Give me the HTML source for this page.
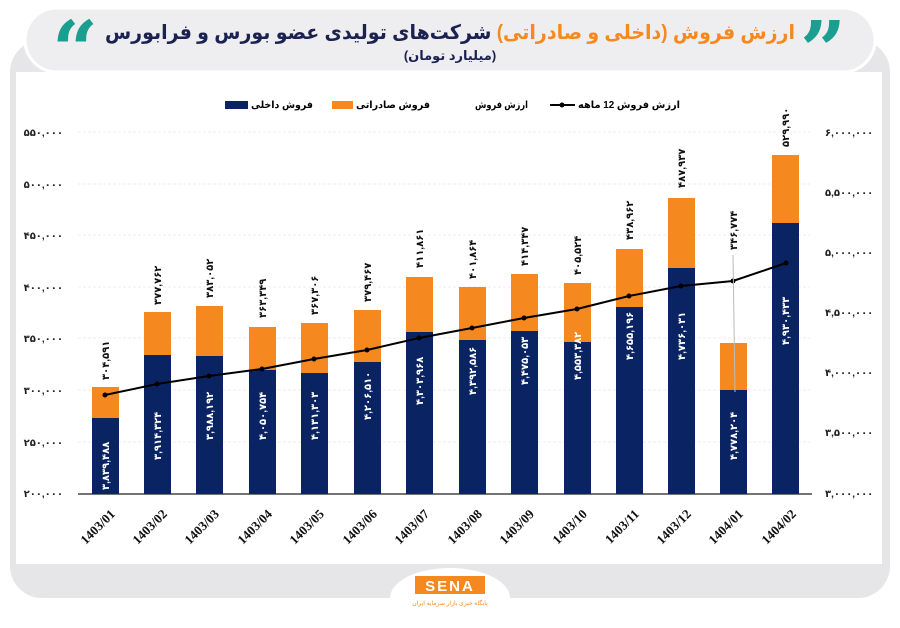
<!DOCTYPE html>
<html><head><meta charset="utf-8"><style>
body{margin:0;background:#fff;width:900px;height:623px;overflow:hidden;font-family:"Liberation Sans","Noto Sans CJK SC",sans-serif}
</style></head><body>
<svg width="900" height="623" xmlns="http://www.w3.org/2000/svg" font-family="Liberation Sans, DejaVu Sans, sans-serif">
<rect x="10" y="40" width="880" height="558" rx="32" fill="#e6e6e8"/>
<rect x="16" y="72" width="866" height="492" fill="#fff"/>
<rect x="25" y="8" width="850" height="64" rx="32" fill="#eeeef0" stroke="#fff" stroke-width="3"/>
<text x="52" y="78" font-size="80" font-weight="bold" fill="#1a9e8f" font-family="DejaVu Serif,serif">“</text>
<text x="800" y="78" font-size="80" font-weight="bold" fill="#1a9e8f" font-family="DejaVu Serif,serif">”</text>
<text x="450" y="39" text-anchor="middle" font-size="20" font-weight="bold" fill="#1b2150" textLength="690" lengthAdjust="spacingAndGlyphs"><tspan fill="#f5891f">ارزش فروش (داخلی و صادراتی)</tspan> شرکت‌های تولیدی عضو بورس و فرابورس</text>
<text x="450" y="60" text-anchor="middle" font-size="13" font-weight="bold" fill="#1b2150">(میلیارد تومان)</text>
<!-- legend -->
<g font-size="10" font-weight="bold" direction="ltr">
<rect x="225" y="101" width="23" height="8" fill="#0a2463"/><text x="251" y="108" textLength="62" lengthAdjust="spacingAndGlyphs">فروش داخلی</text>
<rect x="332" y="101" width="21" height="8" fill="#f5891f"/><text x="356" y="108" textLength="74" lengthAdjust="spacingAndGlyphs">فروش صادراتی</text>
<text x="475" y="108" textLength="53" lengthAdjust="spacingAndGlyphs">ارزش فروش</text>
<line x1="550" y1="105" x2="575" y2="105" stroke="#000" stroke-width="2"/><circle cx="562" cy="105" r="2.5"/>
<text x="578" y="108" textLength="102" lengthAdjust="spacingAndGlyphs">ارزش فروش 12 ماهه</text>
</g>
<!-- grid -->
<g stroke="#eee" stroke-dasharray="3,2">
<line x1="78" y1="132" x2="810" y2="132"/><line x1="78" y1="184" x2="810" y2="184"/><line x1="78" y1="235" x2="810" y2="235"/><line x1="78" y1="287" x2="810" y2="287"/><line x1="78" y1="338" x2="810" y2="338"/><line x1="78" y1="390" x2="810" y2="390"/><line x1="78" y1="442" x2="810" y2="442"/></g>
<g font-size="10" font-weight="bold" fill="#222">
<text x="63" y="136" text-anchor="end">۵۵۰,۰۰۰</text><text x="63" y="188" text-anchor="end">۵۰۰,۰۰۰</text><text x="63" y="239" text-anchor="end">۴۵۰,۰۰۰</text><text x="63" y="291" text-anchor="end">۴۰۰,۰۰۰</text><text x="63" y="342" text-anchor="end">۳۵۰,۰۰۰</text><text x="63" y="394" text-anchor="end">۳۰۰,۰۰۰</text><text x="63" y="446" text-anchor="end">۲۵۰,۰۰۰</text><text x="63" y="497" text-anchor="end">۲۰۰,۰۰۰</text>
<text x="825" y="136">۶,۰۰۰,۰۰۰</text><text x="825" y="196">۵,۵۰۰,۰۰۰</text><text x="825" y="256">۵,۰۰۰,۰۰۰</text><text x="825" y="316">۴,۵۰۰,۰۰۰</text><text x="825" y="376">۴,۰۰۰,۰۰۰</text><text x="825" y="436">۳,۵۰۰,۰۰۰</text><text x="825" y="497">۳,۰۰۰,۰۰۰</text>
</g>
<line x1="78" y1="494" x2="812" y2="494" stroke="#222" stroke-width="1.2"/>
<g font-family="Liberation Serif,serif" font-size="13" font-weight="bold" fill="#111">
<text transform="translate(113,512) rotate(-45)" text-anchor="end" dy="4">1403/01</text>
<text transform="translate(165,512) rotate(-45)" text-anchor="end" dy="4">1403/02</text>
<text transform="translate(217,512) rotate(-45)" text-anchor="end" dy="4">1403/03</text>
<text transform="translate(270,512) rotate(-45)" text-anchor="end" dy="4">1403/04</text>
<text transform="translate(322,512) rotate(-45)" text-anchor="end" dy="4">1403/05</text>
<text transform="translate(375,512) rotate(-45)" text-anchor="end" dy="4">1403/06</text>
<text transform="translate(427,512) rotate(-45)" text-anchor="end" dy="4">1403/07</text>
<text transform="translate(480,512) rotate(-45)" text-anchor="end" dy="4">1403/08</text>
<text transform="translate(532,512) rotate(-45)" text-anchor="end" dy="4">1403/09</text>
<text transform="translate(585,512) rotate(-45)" text-anchor="end" dy="4">1403/10</text>
<text transform="translate(637,512) rotate(-45)" text-anchor="end" dy="4">1403/11</text>
<text transform="translate(689,512) rotate(-45)" text-anchor="end" dy="4">1403/12</text>
<text transform="translate(741,512) rotate(-45)" text-anchor="end" dy="4">1404/01</text>
<text transform="translate(794,512) rotate(-45)" text-anchor="end" dy="4">1404/02</text>
</g>
<g>
<rect x="92" y="387" width="27" height="31" fill="#f5891f"/><rect x="92" y="418" width="27" height="76" fill="#0a2463"/>
<rect x="144" y="312" width="27" height="43" fill="#f5891f"/><rect x="144" y="355" width="27" height="139" fill="#0a2463"/>
<rect x="196" y="306" width="27" height="50" fill="#f5891f"/><rect x="196" y="356" width="27" height="138" fill="#0a2463"/>
<rect x="249" y="327" width="27" height="43" fill="#f5891f"/><rect x="249" y="370" width="27" height="124" fill="#0a2463"/>
<rect x="301" y="323" width="27" height="50" fill="#f5891f"/><rect x="301" y="373" width="27" height="121" fill="#0a2463"/>
<rect x="354" y="310" width="27" height="52" fill="#f5891f"/><rect x="354" y="362" width="27" height="132" fill="#0a2463"/>
<rect x="406" y="277" width="27" height="55" fill="#f5891f"/><rect x="406" y="332" width="27" height="162" fill="#0a2463"/>
<rect x="459" y="287" width="27" height="53" fill="#f5891f"/><rect x="459" y="340" width="27" height="154" fill="#0a2463"/>
<rect x="511" y="274" width="27" height="57" fill="#f5891f"/><rect x="511" y="331" width="27" height="163" fill="#0a2463"/>
<rect x="564" y="283" width="27" height="59" fill="#f5891f"/><rect x="564" y="342" width="27" height="152" fill="#0a2463"/>
<rect x="616" y="249" width="27" height="58" fill="#f5891f"/><rect x="616" y="307" width="27" height="187" fill="#0a2463"/>
<rect x="668" y="198" width="27" height="70" fill="#f5891f"/><rect x="668" y="268" width="27" height="226" fill="#0a2463"/>
<rect x="720" y="343" width="27" height="47" fill="#f5891f"/><rect x="720" y="390" width="27" height="104" fill="#0a2463"/>
<rect x="772" y="155" width="27" height="68" fill="#f5891f"/><rect x="772" y="223" width="27" height="271" fill="#0a2463"/>
</g>
<polyline fill="none" stroke="#000" stroke-width="2" points="105,395 157,384 209,376 262,369 314,359 367,350 419,338 472,328 524,318 577,309 629,296 681,286 733,281 786,263"/>
<g fill="#000"><circle cx="105" cy="395" r="2.5"/><circle cx="157" cy="384" r="2.5"/><circle cx="209" cy="376" r="2.5"/><circle cx="262" cy="369" r="2.5"/><circle cx="314" cy="359" r="2.5"/><circle cx="367" cy="350" r="2.5"/><circle cx="419" cy="338" r="2.5"/><circle cx="472" cy="328" r="2.5"/><circle cx="524" cy="318" r="2.5"/><circle cx="577" cy="309" r="2.5"/><circle cx="629" cy="296" r="2.5"/><circle cx="681" cy="286" r="2.5"/><circle cx="733" cy="281" r="2.5"/><circle cx="786" cy="263" r="2.5"/></g>
<line x1="733" y1="255" x2="735" y2="392" stroke="#bbb"/>
<g font-size="10" font-weight="bold" fill="#111">
<text transform="translate(109,380) rotate(-90)">۳۰۴,۵۹۱</text>
<text transform="translate(161,305) rotate(-90)">۳۷۷,۷۶۲</text>
<text transform="translate(213,298) rotate(-90)">۳۸۳,۰۵۲</text>
<text transform="translate(266,318) rotate(-90)">۳۶۳,۳۴۹</text>
<text transform="translate(318,315) rotate(-90)">۳۶۷,۳۰۶</text>
<text transform="translate(371,302) rotate(-90)">۳۷۹,۴۶۷</text>
<text transform="translate(423,268) rotate(-90)">۴۱۱,۸۶۱</text>
<text transform="translate(476,279) rotate(-90)">۴۰۱,۸۶۴</text>
<text transform="translate(528,266) rotate(-90)">۴۱۴,۳۴۷</text>
<text transform="translate(581,275) rotate(-90)">۴۰۵,۵۲۴</text>
<text transform="translate(633,240) rotate(-90)">۴۳۸,۹۶۲</text>
<text transform="translate(685,188) rotate(-90)">۴۸۷,۹۳۷</text>
<text transform="translate(737,250) rotate(-90)">۳۴۶,۷۷۴</text>
<text transform="translate(789,147) rotate(-90)">۵۲۹,۹۹۰</text>
</g>
<g font-size="10" font-weight="bold" fill="#fff">
<text transform="translate(109,490) rotate(-90)">۳,۸۳۹,۴۸۸</text>
<text transform="translate(161,460) rotate(-90)">۳,۹۱۴,۳۲۴</text>
<text transform="translate(213,440) rotate(-90)">۳,۹۸۸,۱۹۲</text>
<text transform="translate(266,440) rotate(-90)">۴,۰۵۰,۷۵۴</text>
<text transform="translate(318,440) rotate(-90)">۴,۱۳۱,۳۰۳</text>
<text transform="translate(371,420) rotate(-90)">۴,۲۰۶,۵۱۰</text>
<text transform="translate(423,405) rotate(-90)">۴,۳۰۳,۹۶۸</text>
<text transform="translate(476,395) rotate(-90)">۴,۳۹۲,۵۸۶</text>
<text transform="translate(528,385) rotate(-90)">۴,۴۷۵,۰۵۳</text>
<text transform="translate(581,380) rotate(-90)">۴,۵۵۳,۳۸۲</text>
<text transform="translate(633,360) rotate(-90)">۴,۶۵۵,۱۹۶</text>
<text transform="translate(685,360) rotate(-90)">۴,۷۳۶,۰۳۱</text>
<text transform="translate(737,460) rotate(-90)">۴,۷۷۸,۲۰۴</text>
<text transform="translate(789,345) rotate(-90)">۴,۹۳۰,۴۳۳</text>
</g>
<ellipse cx="450" cy="598" rx="60" ry="30" fill="#fff"/>
<rect x="415" y="576" width="70" height="18" fill="#f5891f"/>
<text x="450" y="591" text-anchor="middle" font-size="15" font-weight="bold" fill="#fff" letter-spacing="2">SENA</text>
<text x="450" y="605" text-anchor="middle" font-size="6" fill="#f5891f">پایگاه خبری بازار سرمایه ایران</text>
</svg>
</body></html>
